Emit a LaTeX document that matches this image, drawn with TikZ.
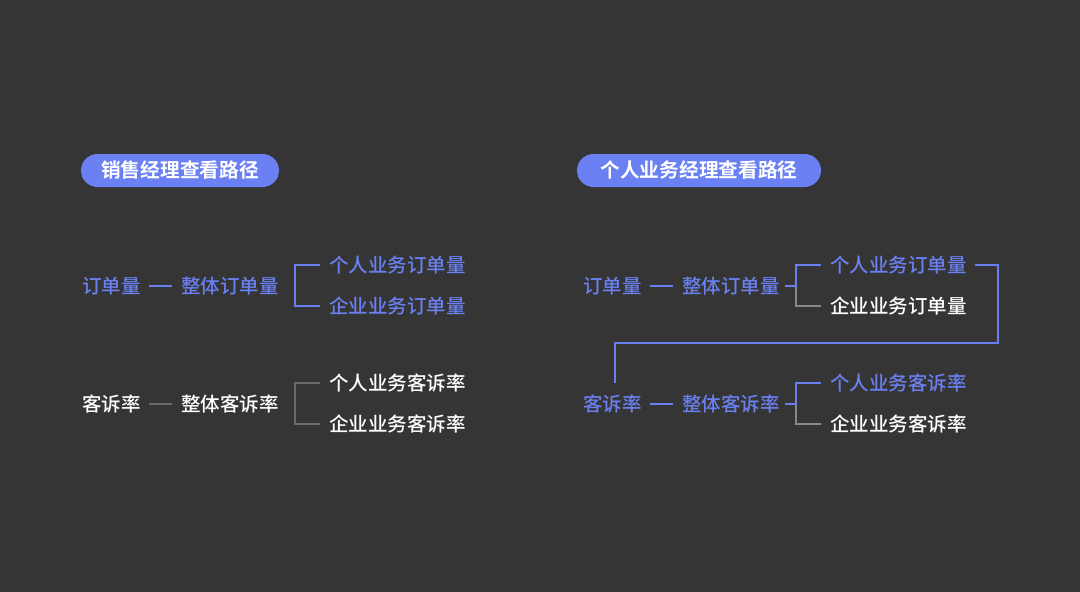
\documentclass[tikz,border=0pt]{standalone}
\usepackage{fontspec}
\setmainfont{Noto Sans CJK SC}
\newfontfamily\cjkmed{Noto Sans CJK SC}[UprightFont={* Medium},BoldFont={* Bold}]
\definecolor{bg}{HTML}{353535}
\definecolor{bl}{HTML}{6A80F0}
\definecolor{pill}{HTML}{6B80F2}
\definecolor{gr}{HTML}{888888}
\definecolor{grd}{HTML}{6A6A6A}
\begin{document}
\begin{tikzpicture}[x=0.02cm,y=-0.02cm,
  lbl/.style={anchor=west,inner sep=0pt,font=\fontsize{11.1}{13}\selectfont\cjkmed},
  blu/.style={lbl,text=bl},
  wht/.style={lbl,text=white},
  pillbox/.style={fill=pill,rounded corners=0.33cm,minimum height=33*0.02cm,inner sep=0pt,text=white,font=\fontsize{11.2}{13}\selectfont\cjkmed\bfseries},
  bline/.style={draw=bl,line width=1.1pt},
  gline/.style={draw=gr,line width=1.1pt},
  dline/.style={draw=grd,line width=0.6pt}]
\fill[bg] (0,0) rectangle (1080,592);
\useasboundingbox (0,0) rectangle (1080,592);
% ---------- left ----------
\node[pillbox,minimum width=198*0.02cm] (p1) at (180,170.5) {销售经理查看路径};
\node[blu] (a1) at (82,286) {订单量};
\node[blu] (b1) at (181,286) {整体订单量};
\node[blu] (c1) at (329,265) {个人业务订单量};
\node[blu] (d1) at (329,306) {企业业务订单量};
\draw[bline] ([xshift=0.16cm]a1.east) -- ([xshift=-0.18cm]b1.west);
\draw[bline] ([xshift=-0.18cm]c1.west) -| (295,306) -- ([xshift=-0.18cm]d1.west);
\node[wht] (a2) at (82,404) {客诉率};
\node[wht] (b2) at (181,404) {整体客诉率};
\node[wht] (c2) at (329,383) {个人业务客诉率};
\node[wht] (d2) at (329,424) {企业业务客诉率};
\draw[dline] ([xshift=0.16cm]a2.east) -- ([xshift=-0.18cm]b2.west);
\draw[dline] ([xshift=-0.18cm]c2.west) -| (295,424) -- ([xshift=-0.18cm]d2.west);
% ---------- right ----------
\node[pillbox,minimum width=244*0.02cm] (p2) at (699,170.5) {个人业务经理查看路径};
\node[blu] (a3) at (583,286) {订单量};
\node[blu] (b3) at (682,286) {整体订单量};
\node[blu] (c3) at (830,265) {个人业务订单量};
\node[wht] (d3) at (830,306) {企业业务订单量};
\coordinate (j3) at (796,286);
\draw[bline] ([xshift=0.16cm]a3.east) -- ([xshift=-0.18cm]b3.west);
\draw[gline] (j3) |- ([xshift=-0.18cm]d3.west);
\draw[bline] ([xshift=0.1cm]b3.east) -- (j3) |- ([xshift=-0.18cm]c3.west);
\node[blu] (a4) at (583,404) {客诉率};
\node[blu] (b4) at (682,404) {整体客诉率};
\node[blu] (c4) at (830,383) {个人业务客诉率};
\node[wht] (d4) at (830,424) {企业业务客诉率};
\coordinate (j4) at (796,404);
\draw[bline] ([xshift=0.16cm]a4.east) -- ([xshift=-0.18cm]b4.west);
\draw[gline] (j4) |- ([xshift=-0.18cm]d4.west);
\draw[bline] ([xshift=0.1cm]b4.east) -- (j4) |- ([xshift=-0.18cm]c4.west);
% long connector
\coordinate (k1) at (998,343);
\coordinate (k2) at (615,383);
\draw[bline] ([xshift=0.16cm]c3.east) -| (k1) -| (k2);
\end{tikzpicture}
\end{document}
